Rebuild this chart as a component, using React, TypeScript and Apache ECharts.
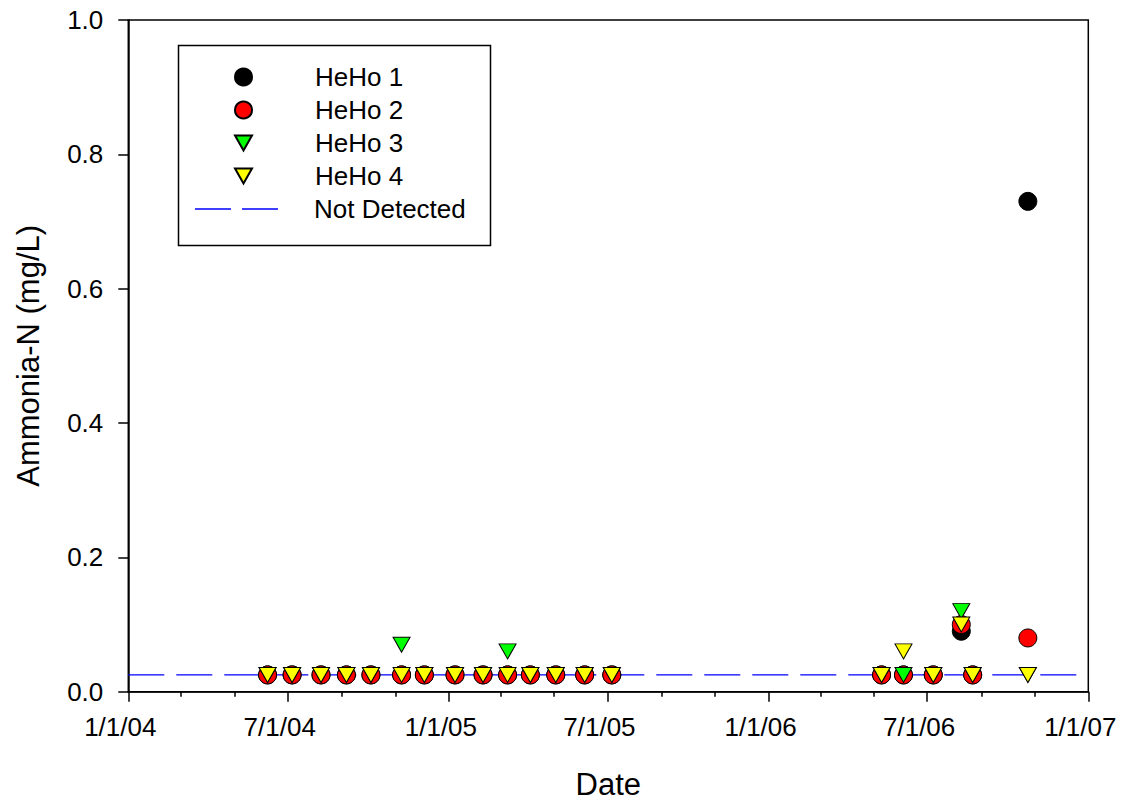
import React, { useEffect, useRef } from "react";
import * as echarts from "echarts";

const FONT = "'Liberation Sans', Arial, Helvetica, sans-serif";

const sampleDates = [
  "2004-06-08", "2004-07-06", "2004-08-08", "2004-09-06", "2004-10-04",
  "2004-11-08", "2004-12-04", "2005-01-08", "2005-02-09", "2005-03-09",
  "2005-04-04", "2005-05-03", "2005-06-05", "2005-07-06", "2006-05-10",
  "2006-06-04", "2006-07-08", "2006-08-09", "2006-08-22", "2006-10-24",
];

const heho1 = [
  0.025, 0.025, 0.025, 0.025, 0.025, 0.025, 0.025, 0.025, 0.025, 0.025,
  0.025, 0.025, 0.025, 0.025, 0.025, 0.025, 0.025, 0.09, 0.025, 0.73,
];
const heho2 = [
  0.025, 0.025, 0.025, 0.025, 0.025, 0.025, 0.025, 0.025, 0.025, 0.025,
  0.025, 0.025, 0.025, 0.025, 0.025, 0.025, 0.025, 0.1, 0.025, 0.08,
];
const heho3 = [
  0.025, 0.025, 0.025, 0.025, 0.025, 0.07, 0.025, 0.025, 0.025, 0.06,
  0.025, 0.025, 0.025, 0.025, 0.025, 0.025, 0.025, 0.12, 0.025, 0.025,
];
const heho4 = [
  0.025, 0.025, 0.025, 0.025, 0.025, 0.025, 0.025, 0.025, 0.025, 0.025,
  0.025, 0.025, 0.025, 0.025, 0.025, 0.06, 0.025, 0.1, 0.025, 0.025,
];

const notDetectedValue = 0.025;
const axisStart = "2004-01-01";
const axisEnd = "2007-01-01";
const majorTickDates = [
  "2004-01-01", "2004-07-01", "2005-01-01", "2005-07-01",
  "2006-01-01", "2006-07-01", "2007-01-01",
];
const minorTickDates = [
  "2004-03-01", "2004-05-01", "2004-09-01", "2004-11-01",
  "2005-03-01", "2005-05-01", "2005-09-01", "2005-11-01",
  "2006-03-01", "2006-05-01", "2006-09-01", "2006-11-01",
];
const yTicks = [0, 0.2, 0.4, 0.6, 0.8, 1.0];

const t = (s: string) => Date.parse(s + "T00:00:00Z");
const pairs = (vals: number[]) => sampleDates.map((d, i) => [t(d), vals[i]]);
const fmtDate = (v: number) => {
  const d = new Date(v);
  return `${d.getUTCMonth() + 1}/${d.getUTCDate()}/${String(d.getUTCFullYear()).slice(2)}`;
};

const DOWN_TRI = "path://M0,0L17,0L8.5,15Z";
const DASH_ICON = "path://M0,0h36v1.3h-36zM47,0h36v1.3h-36z";

export default function App() {
  const ref = useRef<HTMLDivElement>(null);
  useEffect(() => {
    if (!ref.current) return;
    const chart = echarts.init(ref.current, null, { renderer: "svg" });
    const xmin = t(axisStart);
    const xmax = t(axisEnd);
    const scatterBase = {
      type: "scatter" as const,
      z: 3,
      itemStyle: { borderColor: "#000", borderWidth: 1, opacity: 1 },
      emphasis: { disabled: true },
    };
    const legendText = {
      fontFamily: FONT,
      fontSize: 26,
      lineHeight: 26,
      color: "#000",
    };
    chart.setOption({
      animation: false,
      backgroundColor: "#fff",
      textStyle: { fontFamily: FONT },
      grid: {
        left: 128.3,
        right: 34.7,
        top: 20,
        bottom: 116.3,
        show: true,
        borderColor: "#000",
        borderWidth: 1.5,
        containLabel: false,
      },
      legend: [
        {
          orient: "vertical",
          left: 234,
          top: 64,
          padding: 0,
          itemWidth: 17,
          itemHeight: 17,
          itemGap: 7,
          symbolKeepAspect: true,
          selectedMode: false,
          data: [
            { name: "HeHo 1" },
            { name: "HeHo 2" },
            { name: "HeHo 3", icon: DOWN_TRI },
            { name: "HeHo 4", icon: DOWN_TRI },
          ],
          textStyle: { ...legendText, padding: [0, 0, 0, 58] },
        },
        {
          orient: "vertical",
          left: 195,
          top: 196,
          padding: 0,
          itemWidth: 83,
          itemHeight: 17,
          symbolKeepAspect: true,
          selectedMode: false,
          data: [
            {
              name: "Not Detected",
              icon: DASH_ICON,
              itemStyle: { color: "#0000ff", borderWidth: 0 },
            },
          ],
          textStyle: { ...legendText, padding: [0, 0, 0, 31] },
        },
      ],
      graphic: [
        {
          type: "rect",
          left: 176,
          top: 43,
          shape: { x: 0, y: 0, width: 312, height: 200 },
          style: { fill: "none", stroke: "#000", lineWidth: 1.5 },
          z: 100,
        },
      ],
      xAxis: [
        {
          type: "value",
          min: xmin,
          max: xmax,
          position: "bottom",
          name: "Date",
          nameLocation: "middle",
          nameGap: 77,
          nameTextStyle: { fontFamily: FONT, fontSize: 31, color: "#000" },
          axisLine: { show: true, lineStyle: { color: "#000", width: 1.5 } },
          axisTick: {
            show: true,
            inside: false,
            length: 10,
            lineStyle: { color: "#000", width: 1.5 },
            customValues: majorTickDates.map(t),
          },
          axisLabel: {
            show: true,
            fontFamily: FONT,
            fontSize: 26,
            color: "#000",
            margin: 22,
            padding: [0, 16, 0, 0],
            customValues: majorTickDates.map(t),
            formatter: (v: number) => fmtDate(v),
          },
          splitLine: { show: false },
        },
        {
          type: "value",
          min: xmin,
          max: xmax,
          position: "bottom",
          axisLine: { show: false },
          axisTick: {
            show: true,
            inside: false,
            length: 5,
            lineStyle: { color: "#000", width: 1.5 },
            customValues: minorTickDates.map(t),
          },
          axisLabel: { show: false },
          splitLine: { show: false },
        },
      ],
      yAxis: {
        type: "value",
        min: 0,
        max: 1,
        interval: 0.2,
        name: "Ammonia-N (mg/L)",
        nameLocation: "middle",
        nameGap: 84,
        nameTextStyle: { fontFamily: FONT, fontSize: 31, color: "#000" },
        axisLine: { show: true, lineStyle: { color: "#000", width: 1.5 } },
        axisTick: {
          show: true,
          inside: false,
          length: 10,
          lineStyle: { color: "#000", width: 1.5 },
          customValues: yTicks,
        },
        axisLabel: {
          fontFamily: FONT,
          fontSize: 26,
          color: "#000",
          margin: 25,
          customValues: yTicks,
          formatter: (v: number) => v.toFixed(1),
        },
        splitLine: { show: false },
      },
      series: [
        {
          name: "Not Detected",
          type: "line",
          z: 1,
          xAxisIndex: 0,
          symbol: "none",
          showSymbol: false,
          lineStyle: { color: "#0000ff", width: 1.2, type: [36, 12] },
          itemStyle: { color: "#0000ff" },
          emphasis: { disabled: true },
          data: [
            [xmin, notDetectedValue],
            [xmax, notDetectedValue],
          ],
        },
        {
          ...scatterBase,
          name: "HeHo 1",
          symbol: "circle",
          symbolSize: 18,
          itemStyle: { ...scatterBase.itemStyle, color: "#000000" },
          data: pairs(heho1),
        },
        {
          ...scatterBase,
          name: "HeHo 2",
          symbol: "circle",
          symbolSize: 18,
          itemStyle: { ...scatterBase.itemStyle, color: "#ff0000" },
          data: pairs(heho2),
        },
        {
          ...scatterBase,
          name: "HeHo 3",
          symbol: "triangle",
          symbolRotate: 180,
          symbolSize: [17, 15],
          itemStyle: { ...scatterBase.itemStyle, color: "#00ff00" },
          data: pairs(heho3),
        },
        {
          ...scatterBase,
          name: "HeHo 4",
          symbol: "triangle",
          symbolRotate: 180,
          symbolSize: [17, 15],
          itemStyle: { ...scatterBase.itemStyle, color: "#ffff00" },
          data: pairs(heho4),
        },
      ],
    });
    return () => chart.dispose();
  }, []);
  return (
    <div
      ref={ref}
      style={{ position: "fixed", left: 0, top: 0, width: 1123, height: 808, background: "#fff" }}
    />
  );
}
